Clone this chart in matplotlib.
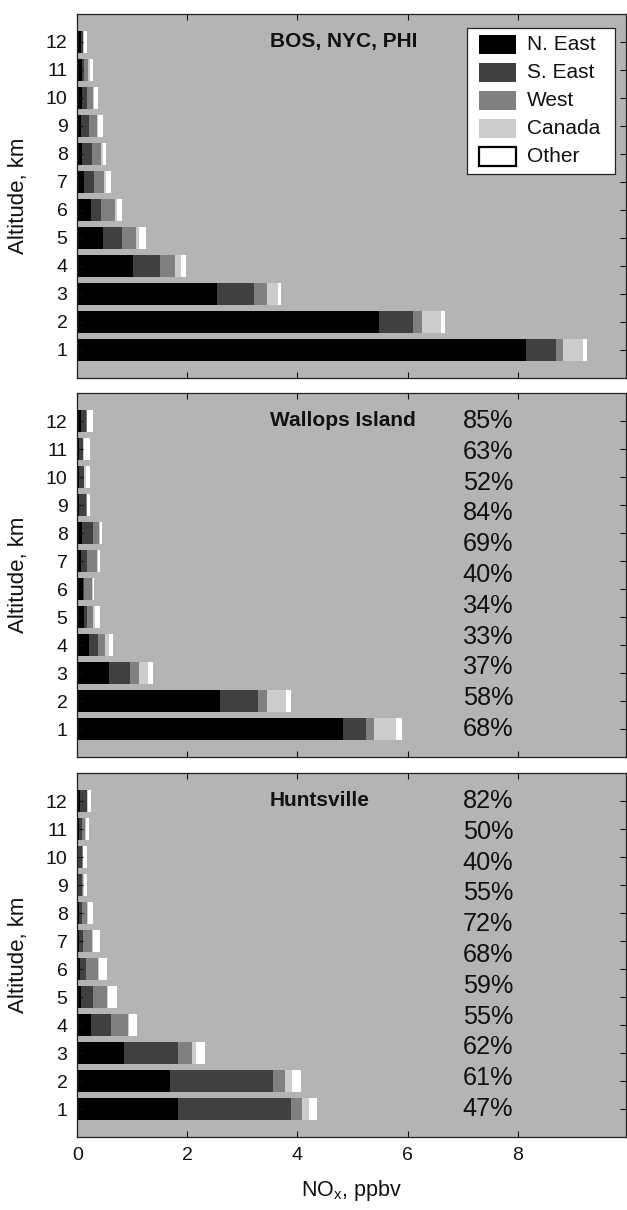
import matplotlib
matplotlib.use("Agg")
import matplotlib.pyplot as plt
from matplotlib.patches import Rectangle
import numpy as np

plt.rcParams['font.family'] = ['Liberation Sans', 'DejaVu Sans']
plt.rcParams['mathtext.fontset'] = 'custom'
plt.rcParams['mathtext.rm'] = 'Liberation Sans'
plt.rcParams['mathtext.it'] = 'Liberation Sans'

# Altitude bins (km) and source regions
altitudes = list(range(1, 13))
sources = ["N. East", "S. East", "West", "Canada", "Other"]
source_colors = ["#000000", "#404040", "#808080", "#cccccc", "#ffffff"]

# NOx contributions (ppbv) by source region, altitude 1..12 km
bos_ne = [8.16, 5.49, 2.54, 1.01, 0.47, 0.24, 0.12, 0.08, 0.06, 0.08, 0.08, 0.06]
bos_se = [0.53, 0.61, 0.67, 0.49, 0.34, 0.19, 0.18, 0.18, 0.16, 0.10, 0.04, 0.04]
bos_west = [0.14, 0.17, 0.23, 0.27, 0.26, 0.25, 0.19, 0.17, 0.14, 0.10, 0.08, 0.01]
bos_canada = [0.36, 0.33, 0.20, 0.11, 0.06, 0.05, 0.03, 0.03, 0.02, 0.02, 0.03, 0.01]
bos_other = [0.07, 0.08, 0.07, 0.09, 0.12, 0.08, 0.09, 0.07, 0.08, 0.08, 0.06, 0.05]

wal_ne = [4.82, 2.60, 0.58, 0.22, 0.12, 0.10, 0.06, 0.08, 0.03, 0.03, 0.03, 0.06]
wal_se = [0.43, 0.68, 0.38, 0.16, 0.06, 0.02, 0.11, 0.20, 0.13, 0.09, 0.07, 0.10]
wal_west = [0.14, 0.17, 0.17, 0.12, 0.11, 0.14, 0.19, 0.12, 0.01, 0.01, 0.01, 0.01]
wal_canada = [0.40, 0.34, 0.16, 0.08, 0.03, 0.02, 0.01, 0.01, 0.01, 0.03, 0.01, 0.01]
wal_other = [0.11, 0.10, 0.08, 0.07, 0.10, 0.03, 0.04, 0.03, 0.05, 0.07, 0.11, 0.11]

hsv_ne = [1.83, 1.68, 0.85, 0.24, 0.06, 0.05, 0.03, 0.03, 0.02, 0.02, 0.03, 0.04]
hsv_se = [2.05, 1.88, 0.98, 0.38, 0.22, 0.11, 0.07, 0.05, 0.06, 0.06, 0.05, 0.13]
hsv_west = [0.20, 0.21, 0.25, 0.30, 0.26, 0.22, 0.16, 0.10, 0.03, 0.02, 0.06, 0.01]
hsv_canada = [0.13, 0.14, 0.08, 0.02, 0.02, 0.02, 0.02, 0.02, 0.01, 0.01, 0.02, 0.01]
hsv_other = [0.15, 0.15, 0.16, 0.15, 0.17, 0.14, 0.14, 0.09, 0.05, 0.07, 0.06, 0.05]

# Percentages listed top to bottom beside each panel
wal_pct = [85, 63, 52, 84, 69, 40, 34, 33, 37, 58, 68]
hsv_pct = [82, 50, 40, 55, 72, 68, 59, 55, 62, 61, 47]

panels = [
    ("BOS, NYC, PHI", [bos_ne, bos_se, bos_west, bos_canada, bos_other], None),
    ("Wallops Island", [wal_ne, wal_se, wal_west, wal_canada, wal_other], wal_pct),
    ("Huntsville", [hsv_ne, hsv_se, hsv_west, hsv_canada, hsv_other], hsv_pct),
]

W, H = 627, 1210
fig = plt.figure(figsize=(W / 100, H / 100), dpi=100)


def fx(px):
    return px / W


def fy(py):
    return 1 - py / H


ax_left = fx(77.3)
ax_width = (626 - 77.3) / W
panel_tops = [14, 393, 773]
panel_h = 364
ink = "#111111"

bg = "#b4b4b4"
axes = []
for i, (title, series, pct) in enumerate(panels):
    top = panel_tops[i]
    ax = fig.add_axes([ax_left, fy(top + panel_h), ax_width, panel_h / H])
    ax.set_facecolor(bg)
    left = np.zeros(len(altitudes))
    for vals, color in zip(series, source_colors):
        ax.barh(altitudes, vals, left=left, height=0.8, color=color,
                edgecolor="none", linewidth=0)
        left = left + np.array(vals)
    ax.set_xlim(0, 9.97)
    ax.set_ylim(0, 13)
    ax.set_yticks(altitudes)
    ax.set_xticks([0, 2, 4, 6, 8])
    ax.tick_params(direction="in", top=True, right=True, length=4, width=0.8,
                   labelsize=14, pad=7, colors=ink)
    for s in ax.spines.values():
        s.set_linewidth(0.9)
        s.set_color("#222222")
    ax.text(3.5, 12, title, fontsize=15, fontweight="bold", ha="left",
            va="center", color=ink)
    if pct is not None:
        ys = np.linspace(12, 1, len(pct))
        for y, p in zip(ys, pct):
            ax.text(7.0, y, f"{p}%", fontsize=18.2, ha="left", va="center",
                    color=ink)
    ax.set_ylabel("Altitude, km", fontsize=16, color=ink)
    ax.yaxis.set_label_coords(-0.088, 0.5)
    if i < 2:
        ax.tick_params(labelbottom=False)
    axes.append(ax)

axes[-1].set_xlabel(r"NO$_{\mathrm{x}}$, ppbv", fontsize=15.5, color=ink,
                    labelpad=10)

# Source-region key in the upper panel
leg_x0, leg_x1, leg_y0, leg_y1 = 467.3, 615.0, 28.3, 174.0
fig.add_artist(Rectangle((fx(leg_x0), fy(leg_y1)), fx(leg_x1 - leg_x0),
                         (leg_y1 - leg_y0) / H, transform=fig.transFigure,
                         facecolor="white", edgecolor="#222222", linewidth=0.9,
                         zorder=5))
sw_x0, sw_w, sw_h, row0, pitch = 479.3, 36.7, 19.0, 44.5, 28.05
for k, (name, color) in enumerate(zip(sources, source_colors)):
    cy = row0 + k * pitch
    edge = "black" if color == "#ffffff" else color
    lw = 1.6 if color == "#ffffff" else 0
    fig.add_artist(Rectangle((fx(sw_x0), fy(cy + sw_h / 2)), fx(sw_w), sw_h / H,
                             transform=fig.transFigure, facecolor=color,
                             edgecolor=edge, linewidth=lw, zorder=6))
    fig.text(fx(526.7), fy(cy), name, fontsize=15, ha="left", va="center",
             color=ink, zorder=7)

fig.savefig("out.png", dpi=100, facecolor="white")
